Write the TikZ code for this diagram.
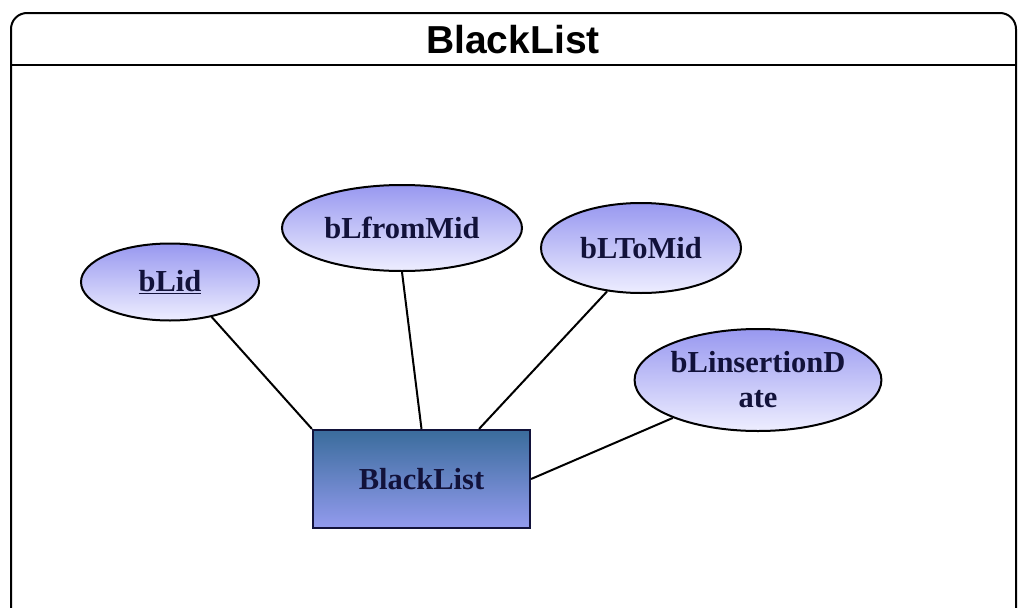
\documentclass[tikz,border=0pt]{standalone}
\usepackage{fontspec}
\setmainfont{Liberation Serif}
\newfontfamily\titlefont{Liberation Sans}
\usetikzlibrary{shapes.geometric}
\definecolor{inkc}{HTML}{12123A}
\definecolor{elltop}{HTML}{9898F0}
\definecolor{ellbot}{HTML}{EEEEFF}
\definecolor{enttop}{HTML}{3A6C9C}
\definecolor{entbot}{HTML}{939BEE}
\tikzset{
  attr/.style={ellipse, draw=black, line width=2pt, top color=elltop, bottom color=ellbot,
    inner sep=0pt, text=inkc, font=\bfseries\fontsize{30.5}{35}\selectfont, align=center},
  entity/.style={rectangle, draw=inkc, line width=2.2pt, top color=enttop, bottom color=entbot,
    inner sep=0pt, text=inkc, font=\bfseries\fontsize{30.5}{35}\selectfont},
  conn/.style={line width=2pt, black}
}
\begin{document}
\begin{tikzpicture}[x=1pt,y=-1pt]
\useasboundingbox (0,0) rectangle (1021,608);
\clip (0,0) rectangle (1021,608);
\fill[white] (0,0) rectangle (1021,608);
\draw[line width=2pt, rounded corners=16pt] (11,13) rectangle (1016,625);
\draw[line width=2pt] (11,65) -- (1016,65);
\node[font=\titlefont\bfseries\fontsize{39}{44}\selectfont, inner sep=0pt] (title) at (513,40) {BlackList};

\node[attr, minimum width=178pt, minimum height=77pt] (id) at (170,282) {\underline{bLid}};
\node[attr, minimum width=240pt, minimum height=86pt] (from) at (402,228) {bLfromMid};
\node[attr, minimum width=200pt, minimum height=90pt] (to) at (641,248) {bLToMid};
\node[attr, minimum width=226pt, minimum height=102pt] (ins) at (758,380) {bLinsertionD\\ate};

\node[entity, minimum width=217pt, minimum height=98pt] (r) at (421.5,479) {BlackList};

\draw[conn] (id.-40) -- (r.north west);
\draw[conn] (from.south) -- (r.north);
\draw[conn] (to.-128) -- ([xshift=-52pt]r.north east);
\draw[conn] (ins.-156) -- (r.east);
\end{tikzpicture}
\end{document}
